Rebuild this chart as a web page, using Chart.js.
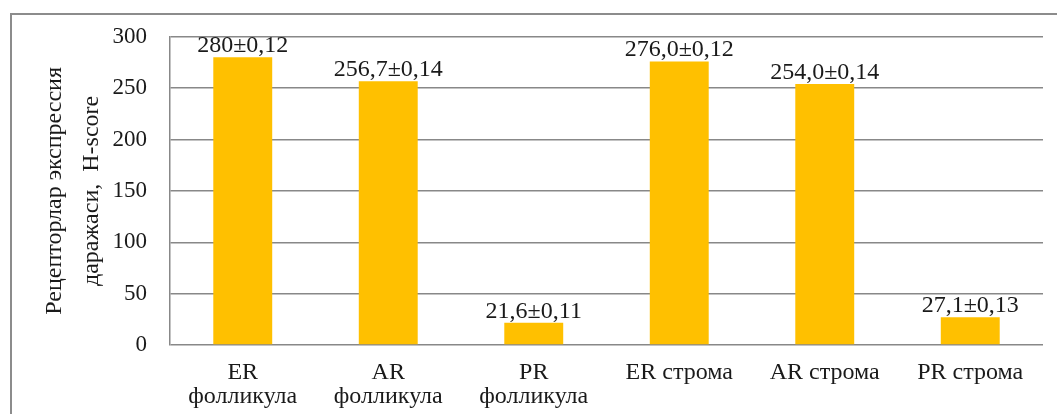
<!DOCTYPE html>
<html>
<head>
<meta charset="utf-8">
<script src="https://cdn.jsdelivr.net/npm/chart.js@4.4.1/dist/chart.umd.min.js"></script>
<style>
  html, body { margin: 0; padding: 0; background: #fff; }
  #wrap { width: 1057px; height: 414px; position: relative; }
</style>
</head>
<body>
<div id="wrap"><canvas id="c" width="1057" height="414"></canvas></div>
<script>
// Receptor expression levels (H-score) in follicles and stroma
const categories = [
  ['ER', 'фолликула'],
  ['AR', 'фолликула'],
  ['PR', 'фолликула'],
  'ER строма',
  'AR строма',
  'PR строма'
];
const hScores = [280, 256.7, 21.6, 276.0, 254.0, 27.1];
const valueLabels = ['280±0,12', '256,7±0,14', '21,6±0,11', '276,0±0,12', '254,0±0,14', '27,1±0,13'];
const yTicks = [0, 50, 100, 150, 200, 250, 300];
const yTitle = ['Рецепторлар экспрессия', 'даражаси,  H-score'];

const SERIF = "'Liberation Serif', 'Times New Roman', serif";
const GRID = '#888888';

// White page with a gray frame running off the right and bottom edges
const framePlugin = {
  id: 'frame',
  beforeDraw(chart) {
    const ctx = chart.ctx;
    ctx.save();
    ctx.fillStyle = '#fff';
    ctx.fillRect(0, 0, chart.width, chart.height);
    ctx.strokeStyle = '#8c8c8c';
    ctx.lineWidth = 2;
    ctx.strokeRect(11, 14, chart.width + 40, chart.height + 40);
    ctx.restore();
  }
};

// Value text above each bar
const valueLabelPlugin = {
  id: 'valueLabels',
  afterDatasetsDraw(chart) {
    const ctx = chart.ctx;
    const meta = chart.getDatasetMeta(0);
    ctx.save();
    ctx.font = '24px ' + SERIF;
    ctx.fillStyle = '#1a1a1a';
    ctx.textAlign = 'center';
    ctx.textBaseline = 'alphabetic';
    meta.data.forEach((bar, i) => {
      ctx.fillText(valueLabels[i], bar.x, bar.y - 5);
    });
    ctx.restore();
  }
};

new Chart(document.getElementById('c'), {
  type: 'bar',
  data: {
    labels: categories,
    datasets: [{
      data: hScores,
      backgroundColor: '#FFC000',
      borderWidth: 0,
      categoryPercentage: 1,
      barPercentage: 0.405
    }]
  },
  options: {
    responsive: false,
    animation: false,
    devicePixelRatio: 1,
    layout: { padding: { top: 36, right: 14, left: 0, bottom: 0 } },
    plugins: {
      legend: { display: false },
      tooltip: { enabled: false }
    },
    scales: {
      x: {
        grid: { display: false, drawTicks: false },
        border: { display: false },
        ticks: {
          color: '#1a1a1a',
          font: { family: SERIF, size: 24, lineHeight: 1.0 },
          padding: 16,
          maxRotation: 0,
          autoSkip: false
        },
        afterFit(scale) { scale.height = 69; }
      },
      y: {
        min: 0,
        max: 300,
        afterBuildTicks(scale) { scale.ticks = yTicks.map(v => ({ value: v })); },
        grid: { color: GRID, lineWidth: 1.5, drawTicks: false },
        border: { display: true, color: GRID, width: 1.5 },
        ticks: {
          color: '#1a1a1a',
          font: { family: SERIF, size: 23 },
          padding: 23
        },
        title: {
          display: true,
          text: yTitle,
          color: '#1a1a1a',
          font: { family: SERIF, size: 24, lineHeight: '37px' },
          padding: { top: 36.5, bottom: 0 }
        },
        afterFit(scale) { scale.width = 170; }
      }
    }
  },
  plugins: [framePlugin, valueLabelPlugin]
});
</script>
</body>
</html>
